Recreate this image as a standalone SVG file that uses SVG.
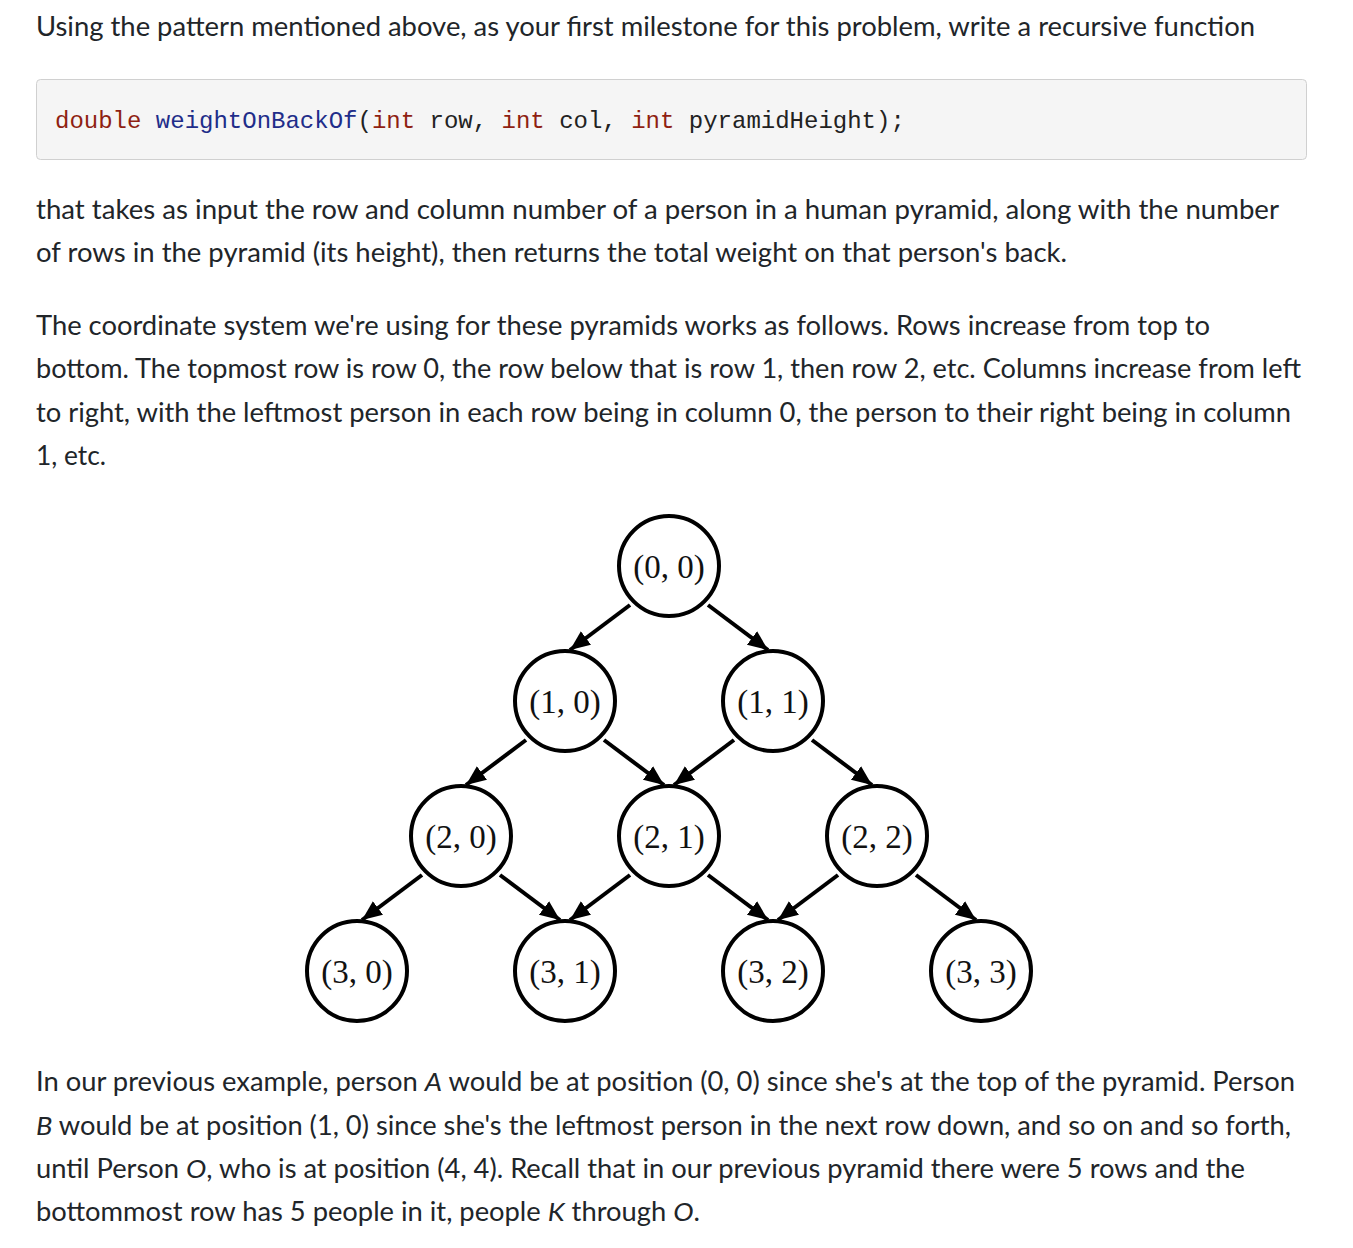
<svg xmlns="http://www.w3.org/2000/svg" width="1353" height="1248" viewBox="0 0 1353 1248">
<style>
.p{font-family:Lato,"Noto Sans","Liberation Sans",sans-serif;font-size:26px;fill:#212529}
.i{font-style:italic}
.code{font-family:"Liberation Mono","DejaVu Sans Mono",monospace;font-size:24px;fill:#222}
.kw{fill:#8f1f12}
.fn{fill:#1f2d8a}
.node circle{fill:#fff;stroke:#000;stroke-width:4}
.node text{font-family:"Liberation Serif","Times New Roman",serif;font-size:33px;fill:#111;text-anchor:middle}
.edges path{stroke:#000;stroke-width:4;fill:none;marker-end:url(#ah)}
</style>
<defs>
<marker id="ah" markerUnits="userSpaceOnUse" markerWidth="22" markerHeight="18" refX="20" refY="8.5" orient="auto">
<path d="M0,0 L20,8.5 L0,17 z" fill="#000"/>
</marker>
</defs>
<rect width="1353" height="1248" fill="#fff"/>
<text class="p" x="36" y="36" textLength="1219" lengthAdjust="spacingAndGlyphs">Using the pattern mentioned above, as your first milestone for this problem, write a recursive function</text>
<rect x="36.5" y="79.5" width="1270" height="80" rx="4" fill="#f5f5f5" stroke="#d0d0d0"/>
<text class="code" x="55" y="128"><tspan class="kw">double</tspan> <tspan class="fn">weightOnBackOf</tspan>(<tspan class="kw">int</tspan> row, <tspan class="kw">int</tspan> col, <tspan class="kw">int</tspan> pyramidHeight);</text>
<text class="p" x="36" y="219" textLength="1243" lengthAdjust="spacingAndGlyphs">that takes as input the row and column number of a person in a human pyramid, along with the number</text>
<text class="p" x="36" y="262" textLength="1031" lengthAdjust="spacingAndGlyphs">of rows in the pyramid (its height), then returns the total weight on that person's back.</text>
<text class="p" x="36" y="335" textLength="1174" lengthAdjust="spacingAndGlyphs">The coordinate system we're using for these pyramids works as follows. Rows increase from top to</text>
<text class="p" x="36" y="378" textLength="1265" lengthAdjust="spacingAndGlyphs">bottom. The topmost row is row 0, the row below that is row 1, then row 2, etc. Columns increase from left</text>
<text class="p" x="36" y="422" textLength="1255" lengthAdjust="spacingAndGlyphs">to right, with the leftmost person in each row being in column 0, the person to their right being in column</text>
<text class="p" x="36" y="465" textLength="70" lengthAdjust="spacingAndGlyphs">1, etc.</text>
<g class="edges">
<path d="M630,605 L570,650"/>
<path d="M708,605 L768,650"/>
<path d="M526,740 L466,785"/>
<path d="M604,740 L664,785"/>
<path d="M734,740 L674,785"/>
<path d="M812,740 L872,785"/>
<path d="M422,875 L362,920"/>
<path d="M500,875 L560,920"/>
<path d="M630,875 L570,920"/>
<path d="M708,875 L768,920"/>
<path d="M838,875 L778,920"/>
<path d="M916,875 L976,920"/>
</g>
<g id="n00" class="node"><circle cx="669" cy="566" r="50"/><text x="669" y="578">(0, 0)</text></g>
<g id="n10" class="node"><circle cx="565" cy="701" r="50"/><text x="565" y="713">(1, 0)</text></g>
<g id="n11" class="node"><circle cx="773" cy="701" r="50"/><text x="773" y="713">(1, 1)</text></g>
<g id="n20" class="node"><circle cx="461" cy="836" r="50"/><text x="461" y="848">(2, 0)</text></g>
<g id="n21" class="node"><circle cx="669" cy="836" r="50"/><text x="669" y="848">(2, 1)</text></g>
<g id="n22" class="node"><circle cx="877" cy="836" r="50"/><text x="877" y="848">(2, 2)</text></g>
<g id="n30" class="node"><circle cx="357" cy="971" r="50"/><text x="357" y="983">(3, 0)</text></g>
<g id="n31" class="node"><circle cx="565" cy="971" r="50"/><text x="565" y="983">(3, 1)</text></g>
<g id="n32" class="node"><circle cx="773" cy="971" r="50"/><text x="773" y="983">(3, 2)</text></g>
<g id="n33" class="node"><circle cx="981" cy="971" r="50"/><text x="981" y="983">(3, 3)</text></g>
<text class="p" x="36" y="1091" textLength="1259" lengthAdjust="spacingAndGlyphs">In our previous example, person <tspan class="i">A</tspan> would be at position (0, 0) since she's at the top of the pyramid. Person</text>
<text class="p" x="36" y="1135" textLength="1255" lengthAdjust="spacingAndGlyphs"><tspan class="i">B</tspan> would be at position (1, 0) since she's the leftmost person in the next row down, and so on and so forth,</text>
<text class="p" x="36" y="1178" textLength="1209" lengthAdjust="spacingAndGlyphs">until Person <tspan class="i">O</tspan>, who is at position (4, 4). Recall that in our previous pyramid there were 5 rows and the</text>
<text class="p" x="36" y="1221" textLength="664" lengthAdjust="spacingAndGlyphs">bottommost row has 5 people in it, people <tspan class="i">K</tspan> through <tspan class="i">O</tspan>.</text>
</svg>
